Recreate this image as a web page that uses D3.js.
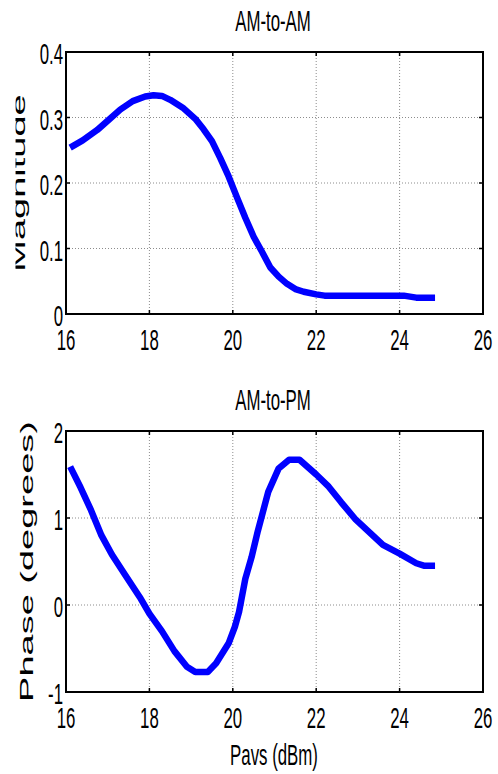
<!DOCTYPE html>
<html>
<head>
<meta charset="utf-8">
<script src="https://cdn.jsdelivr.net/npm/d3@7"></script>
<style>
  body { margin: 0; background: #fff; }
  svg { display: block; }
</style>
</head>
<body>
<div id="chart"></div>
<script>
// AM-to-AM curve (Pavs in dBm, magnitude)
const amamX = [16.1, 16.4, 16.75, 17.0, 17.3, 17.6, 17.9, 18.1, 18.3, 18.5, 18.8, 19.1, 19.3, 19.5, 19.7, 19.9,
               20.1, 20.3, 20.5, 20.7, 20.9, 21.1, 21.3, 21.5, 21.7, 22.0, 22.2, 24.1, 24.4, 24.85];
const amamY = [0.254, 0.265, 0.281, 0.295, 0.312, 0.325, 0.332, 0.334, 0.333, 0.327, 0.315, 0.298, 0.282, 0.264, 0.238, 0.21,
               0.178, 0.147, 0.118, 0.095, 0.071, 0.057, 0.046, 0.038, 0.034, 0.030, 0.028, 0.028, 0.025, 0.025];

// AM-to-PM curve (Pavs in dBm, phase in degrees)
const ampmX = [16.1, 16.35, 16.6, 16.85, 17.1, 17.4, 17.77, 18.0, 18.3, 18.6, 18.9, 19.1, 19.4, 19.6, 19.9, 20.05,
               20.15, 20.3, 20.45, 20.6, 20.85, 21.1, 21.35, 21.6, 22.0, 22.3, 22.6, 22.95, 23.6, 24.0, 24.4, 24.6, 24.85];
const ampmY = [1.59, 1.35, 1.09, 0.80, 0.58, 0.36, 0.09, -0.10, -0.30, -0.53, -0.71, -0.77, -0.77, -0.67, -0.44, -0.25,
               -0.08, 0.30, 0.55, 0.85, 1.30, 1.57, 1.67, 1.67, 1.50, 1.36, 1.18, 0.98, 0.69, 0.59, 0.48, 0.45, 0.45];

const xTicks = [16, 18, 20, 22, 24, 26];
const amamTicks = [0, 0.1, 0.2, 0.3, 0.4];
const ampmTicks = [-1, 0, 1, 2];

const width = 498, height = 774;
const squeeze = 0.56;   // horizontal squash of the original figure
const font = "Liberation Sans, Arial, sans-serif";

const svg = d3.select("#chart").append("svg")
    .attr("width", width)
    .attr("height", height);

// the top y label is cut off on the left in the original
svg.append("defs").append("clipPath")
    .attr("id", "labelClip")
    .append("rect")
    .attr("x", 15.5).attr("y", 0)
    .attr("width", 60).attr("height", height);

function drawPanel(opts) {
    const x = d3.scaleLinear().domain([16, 26]).range([66, 483]);
    const y = d3.scaleLinear().domain(opts.yDomain).range([opts.bottom, opts.top]);
    const g = svg.append("g");

    // grid
    g.append("g").selectAll("line")
        .data(xTicks.slice(1, -1))
        .enter().append("line")
        .attr("x1", d => x(d)).attr("x2", d => x(d))
        .attr("y1", opts.top).attr("y2", opts.bottom)
        .attr("stroke", "#8c8c8c").attr("stroke-width", 1)
        .attr("stroke-dasharray", "1,2");
    g.append("g").selectAll("line")
        .data(opts.yTicks.slice(1, -1))
        .enter().append("line")
        .attr("x1", 66).attr("x2", 483)
        .attr("y1", d => y(d)).attr("y2", d => y(d))
        .attr("stroke", "#8c8c8c").attr("stroke-width", 1)
        .attr("stroke-dasharray", "1,2");

    // inward ticks on all four sides
    const tick = 4;
    g.append("g").selectAll("line")
        .data(xTicks)
        .enter().append("line")
        .attr("x1", d => x(d)).attr("x2", d => x(d))
        .attr("y1", opts.bottom).attr("y2", opts.bottom - tick)
        .attr("stroke", "#000").attr("stroke-width", 1.5);
    g.append("g").selectAll("line")
        .data(xTicks)
        .enter().append("line")
        .attr("x1", d => x(d)).attr("x2", d => x(d))
        .attr("y1", opts.top).attr("y2", opts.top + tick)
        .attr("stroke", "#000").attr("stroke-width", 1.5);
    g.append("g").selectAll("line")
        .data(opts.yTicks)
        .enter().append("line")
        .attr("x1", 66).attr("x2", 66 + tick)
        .attr("y1", d => y(d)).attr("y2", d => y(d))
        .attr("stroke", "#000").attr("stroke-width", 1.5);
    g.append("g").selectAll("line")
        .data(opts.yTicks)
        .enter().append("line")
        .attr("x1", 483).attr("x2", 483 - tick)
        .attr("y1", d => y(d)).attr("y2", d => y(d))
        .attr("stroke", "#000").attr("stroke-width", 1.5);

    // box
    g.append("rect")
        .attr("x", 66).attr("y", opts.top)
        .attr("width", 483 - 66).attr("height", opts.bottom - opts.top)
        .attr("fill", "none").attr("stroke", "#000").attr("stroke-width", 2);

    // tick labels (squashed horizontally)
    g.append("g").selectAll("text")
        .data(xTicks)
        .enter().append("text")
        .attr("transform", d => `translate(${x(d)},${opts.bottom + 36}) scale(${squeeze},1)`)
        .attr("text-anchor", "middle")
        .style("font-family", font)
        .style("font-size", "30px")
        .text(d => d);
    g.append("g").selectAll("text")
        .data(opts.yTicks)
        .enter().append("text")
        .attr("transform", d => `translate(63,${y(d) + 12}) scale(${squeeze},1)`)
        .attr("text-anchor", "end")
        .style("font-family", font)
        .style("font-size", "30px")
        .text(d => d);

    // title
    g.append("text")
        .attr("transform", `translate(273,${opts.top - 21}) scale(0.58,1)`)
        .attr("text-anchor", "middle")
        .style("font-family", font)
        .style("font-size", "29px")
        .text(opts.title);

    // y label (rotated, squashed across its height)
    const labelParent = opts.clip
        ? g.append("g").attr("clip-path", "url(#labelClip)")
        : g;
    labelParent.append("text")
        .attr("transform", `translate(${opts.labelX},${(opts.top + opts.bottom) / 2}) scale(0.5,1) rotate(-90)`)
        .attr("text-anchor", "middle")
        .style("font-family", font)
        .style("font-size", "38px")
        .text(opts.yLabel);

    // curve
    const line = d3.line()
        .x(d => x(d[0]))
        .y(d => y(d[1]));
    g.append("path")
        .datum(d3.zip(opts.xs, opts.ys))
        .attr("fill", "none")
        .attr("stroke", "#0000ff")
        .attr("stroke-width", 6.5)
        .attr("stroke-linejoin", "round")
        .attr("stroke-linecap", "butt")
        .attr("d", line);
}

drawPanel({
    top: 52, bottom: 314, yDomain: [0, 0.4], yTicks: amamTicks,
    title: "AM-to-AM", yLabel: "Magnitude", labelX: 25, clip: true,
    xs: amamX, ys: amamY
});

drawPanel({
    top: 431, bottom: 692, yDomain: [-1, 2], yTicks: ampmTicks,
    title: "AM-to-PM", yLabel: "Phase (degrees)", labelX: 33, clip: false,
    xs: ampmX, ys: ampmY
});

// x axis label
svg.append("text")
    .attr("transform", `translate(274,765) scale(0.58,1)`)
    .attr("text-anchor", "middle")
    .style("font-family", font)
    .style("font-size", "29px")
    .text("Pavs (dBm)");
</script>
</body>
</html>
